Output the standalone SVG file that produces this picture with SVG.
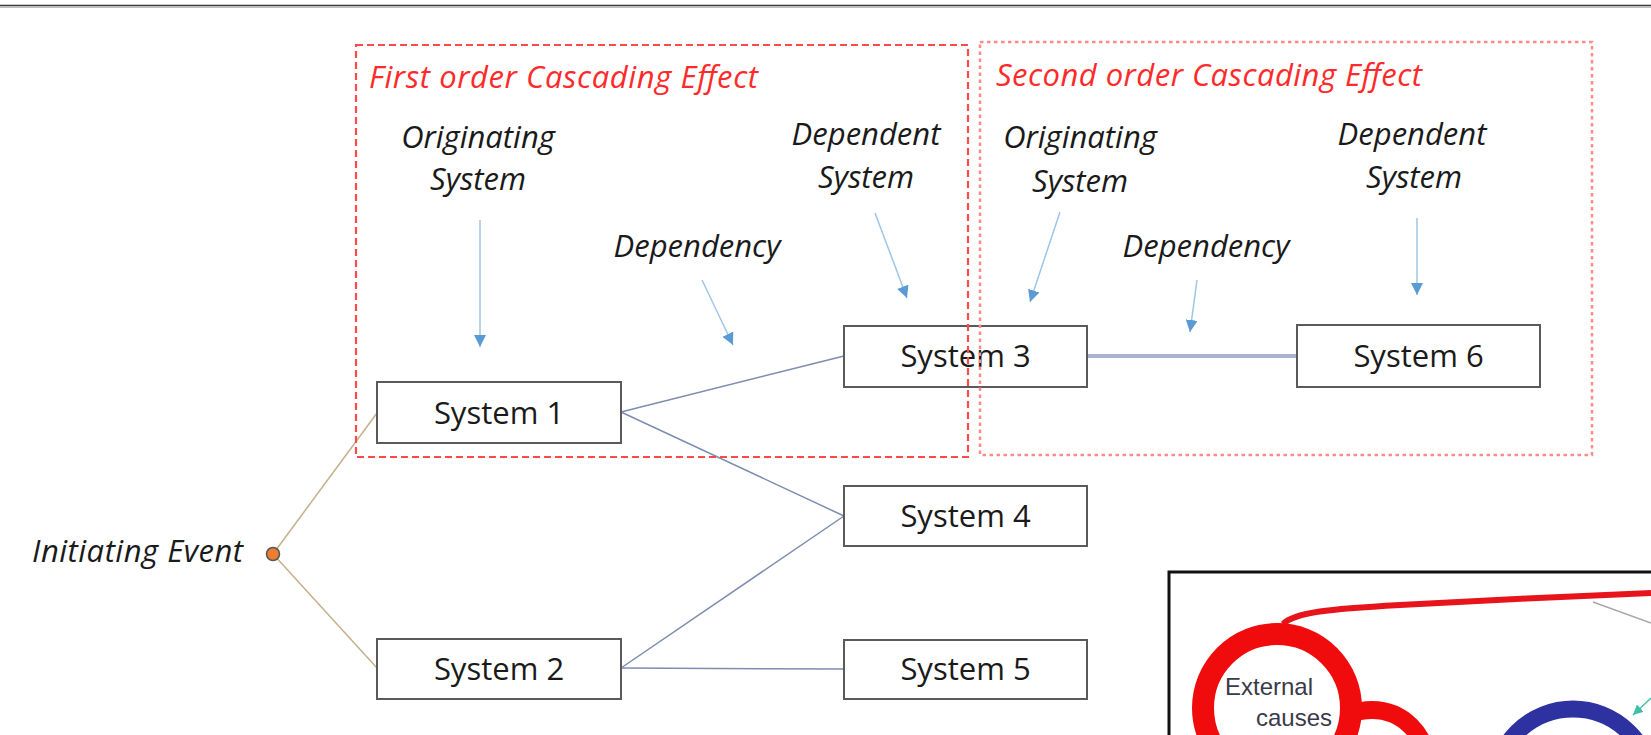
<svg xmlns="http://www.w3.org/2000/svg" width="1651" height="735" viewBox="0 0 1651 735">
<style>
.lbl{font-family:"Open Sans","Noto Sans","Liberation Sans",sans-serif;font-style:italic;font-size:31px;fill:#1a1a1a;text-anchor:middle}
.ttl{font-family:"Open Sans","Noto Sans","Liberation Sans",sans-serif;font-style:italic;font-size:31px;fill:#ff2a2a}
.box{fill:#ffffff;stroke:#5a5a5a;stroke-width:2}
.btxt{font-family:"Open Sans","Noto Sans","Liberation Sans",sans-serif;font-size:31px;fill:#1a1a1a;text-anchor:middle}
.conn{stroke:#7d8db0;stroke-width:1.5;fill:none}
.tan{stroke:#c4b08a;stroke-width:1.5;fill:none}
.ptr{stroke:#9fc5e8;stroke-width:1.5;fill:none;marker-end:url(#ah)}
.ring{fill:none}
.ins{font-family:"Liberation Sans",Arial,sans-serif;font-size:24px;fill:#3a3a48}
</style>
<defs>
<marker id="ah" markerWidth="12" markerHeight="12" refX="10" refY="5" orient="auto" markerUnits="userSpaceOnUse" viewBox="0 0 10 10">
<path d="M0,0 L10,5 L0,10 z" fill="#5b9bd5"/>
</marker>
<marker id="ahT" markerWidth="10" markerHeight="10" refX="10" refY="5" orient="auto" markerUnits="userSpaceOnUse" viewBox="0 0 10 10">
<path d="M0,0 L10,5 L0,10 z" fill="#40c0a8"/>
</marker>
<clipPath id="insetClip"><rect x="1170" y="573" width="481" height="162"/></clipPath>
</defs>
<rect width="1651" height="735" fill="#ffffff"/>
<line x1="0" y1="5.5" x2="1651" y2="5.5" stroke="#3a3a3a" stroke-width="1.6"/>
<line x1="0" y1="7.2" x2="1651" y2="7.2" stroke="#a0a0a0" stroke-width="1"/>

<g id="connectors">
<line class="tan" x1="273" y1="554" x2="377" y2="413"/>
<line class="tan" x1="273" y1="554" x2="377" y2="668"/>
<line class="conn" x1="621" y1="412" x2="844" y2="356"/>
<line class="conn" x1="621" y1="412" x2="844" y2="516"/>
<line class="conn" x1="621" y1="668" x2="844" y2="516"/>
<line class="conn" x1="621" y1="668" x2="844" y2="669"/>
<line x1="1087" y1="356" x2="1297" y2="356" stroke="#a8b5cf" stroke-width="4"/>
<line class="ptr" x1="480" y1="220" x2="480" y2="347"/>
<line class="ptr" x1="702" y1="280" x2="733" y2="345"/>
<line class="ptr" x1="875" y1="213" x2="907" y2="298"/>
<line class="ptr" x1="1060" y1="212" x2="1030" y2="302"/>
<line class="ptr" x1="1197" y1="280" x2="1190" y2="332"/>
<line class="ptr" x1="1417" y1="218" x2="1417" y2="295"/>
</g>

<g id="initiating-event">
<circle cx="273" cy="554" r="6.5" fill="#ed7d31" stroke="#555555" stroke-width="1.5"/>
<text class="lbl" x="32" y="562" style="text-anchor:start" textLength="211">Initiating Event</text>
</g>
<g id="system1"><rect class="box" x="377" y="382" width="244" height="61"/><text class="btxt" x="499" y="424">System 1</text></g>
<g id="system2"><rect class="box" x="377" y="639" width="244" height="60"/><text class="btxt" x="499" y="680">System 2</text></g>
<g id="system3"><rect class="box" x="844" y="326" width="243" height="61"/><text class="btxt" x="965.5" y="367">System 3</text></g>
<g id="system4"><rect class="box" x="844" y="486" width="243" height="60"/><text class="btxt" x="965.5" y="527">System 4</text></g>
<g id="system5"><rect class="box" x="844" y="640" width="243" height="59"/><text class="btxt" x="965.5" y="680">System 5</text></g>
<g id="system6"><rect class="box" x="1297" y="325" width="243" height="62"/><text class="btxt" x="1418.5" y="367">System 6</text></g>

<g id="labels">
<text class="lbl" x="478" y="148">Originating</text>
<text class="lbl" x="478" y="190">System</text>
<text class="lbl" x="866" y="145">Dependent</text>
<text class="lbl" x="866" y="188">System</text>
<text class="lbl" x="697" y="257">Dependency</text>
<text class="lbl" x="1080" y="148">Originating</text>
<text class="lbl" x="1080" y="192">System</text>
<text class="lbl" x="1206" y="257">Dependency</text>
<text class="lbl" x="1412" y="145">Dependent</text>
<text class="lbl" x="1414" y="188">System</text>
</g>

<g id="first-order">
<rect x="356" y="45" width="612" height="412" fill="none" stroke="#ff4a4a" stroke-width="2.2" stroke-dasharray="7,4"/>
<text class="ttl" x="369" y="88" textLength="389">First order Cascading Effect</text>
</g>
<g id="second-order">
<rect x="980" y="42" width="612" height="413" fill="none" stroke="#ff8a8a" stroke-width="2.5" stroke-dasharray="3.5,3.5"/>
<text class="ttl" x="996" y="86" textLength="426">Second order Cascading Effect</text>
</g>

<g id="inset">
<rect x="1169" y="572" width="520" height="200" fill="#ffffff" stroke="#111111" stroke-width="3"/>
<g clip-path="url(#insetClip)">
<path d="M1283,624 C1295,612 1330,609 1400,605 S1580,596 1651,593" fill="none" stroke="#e8141c" stroke-width="6"/>
<line x1="1593" y1="602" x2="1651" y2="623" stroke="#a8a8a8" stroke-width="1.5"/>
<circle class="ring" cx="1372" cy="765" r="55" stroke="#f00c0c" stroke-width="18"/>
<circle cx="1277" cy="708" r="74" fill="#ffffff" stroke="#f00c0c" stroke-width="22"/>
<circle class="ring" cx="1573" cy="788" r="79" stroke="#2e31a0" stroke-width="17"/>
<line x1="1651" y1="698" x2="1633" y2="715" stroke="#40c0a8" stroke-width="1.5" marker-end="url(#ahT)"/>
<text class="ins" x="1225" y="695">External</text>
<text class="ins" x="1256" y="726">causes</text>
</g>
</g>
</svg>
